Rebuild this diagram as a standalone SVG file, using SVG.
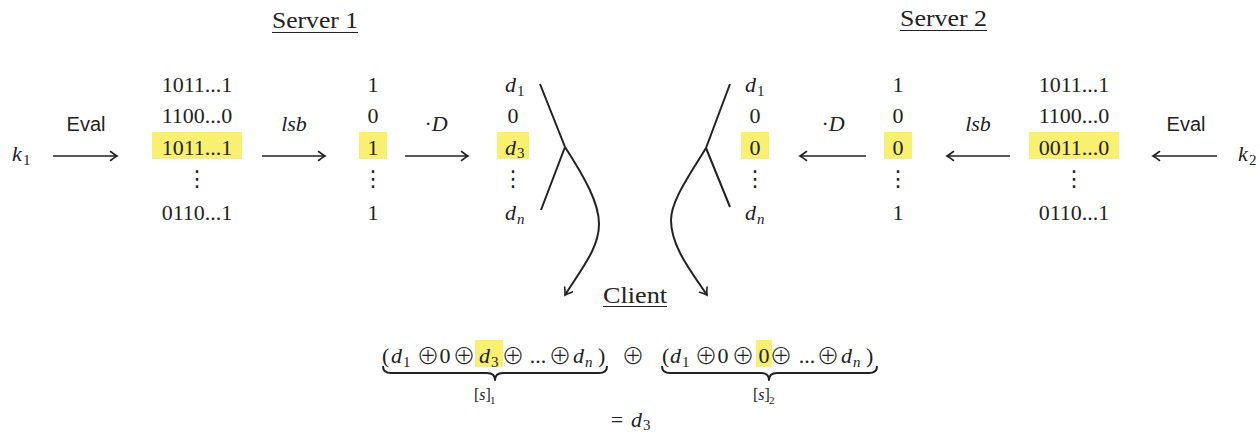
<svg xmlns="http://www.w3.org/2000/svg" width="1260" height="434" viewBox="0 0 1260 434">
<style>
text{font-family:"Liberation Serif","DejaVu Serif",serif;font-size:22px;fill:#222}
.i{font-style:italic}
.sub{font-size:15px}
.ss{font-size:11px}
.sm{font-size:16px}
.sans{font-family:"Liberation Sans",Arial,sans-serif;font-size:20px}
.big{font-size:24px}
.m{text-anchor:middle}
.op{font-family:"Noto Sans CJK JP","DejaVu Sans",sans-serif;font-size:23px;font-weight:300;text-anchor:middle}
.dots{font-family:"Noto Sans CJK JP","DejaVu Sans",sans-serif;font-size:22px;font-weight:400;text-anchor:middle}
.hl{fill:#faf070}
.ul{stroke:#222;stroke-width:1.2}
.ar{fill:none;stroke:#222;stroke-width:1.7;marker-end:url(#ah)}
.br{fill:none;stroke:#222;stroke-width:2}
.brace{fill:none;stroke:#222;stroke-width:2;stroke-linejoin:round}
</style>
<defs>
<marker id="ah" viewBox="-8 -6 10 12" refX="0" refY="0" markerWidth="10" markerHeight="12" markerUnits="userSpaceOnUse" orient="auto">
<path d="M-6.5,-4.5 Q-2,-1 0,0 Q-2,1 -6.5,4.5" fill="none" stroke="#222" stroke-width="1.6" stroke-linecap="round"/>
</marker>
</defs>

<g id="titles">
<text class="big" x="272" y="28" textLength="86" lengthAdjust="spacingAndGlyphs">Server 1</text>
<line class="ul" x1="272" y1="32.5" x2="358" y2="32.5"/>
<text class="big" x="900" y="26" textLength="87" lengthAdjust="spacingAndGlyphs">Server 2</text>
<line class="ul" x1="900" y1="30.5" x2="987" y2="30.5"/>
</g>

<g id="k1"><text class="i" x="12" y="161">k</text><text class="sub" x="23" y="165">1</text></g>
<g id="k2"><text class="i" x="1238" y="161">k</text><text class="sub" x="1249" y="165">2</text></g>

<g id="s1-strings">
<rect class="hl" x="152" y="132" width="90" height="27"/>
<text class="m" x="197" y="92">1011...1</text>
<text class="m" x="197" y="123">1100...0</text>
<text class="m" x="197" y="155">1011...1</text>
<text class="dots" x="197" y="186">⋮</text>
<text class="m" x="197" y="220">0110...1</text>
</g>
<g id="s1-bits">
<rect class="hl" x="359" y="132" width="28" height="27"/>
<text class="m" x="373" y="92">1</text>
<text class="m" x="373" y="123">0</text>
<text class="m" x="373" y="155">1</text>
<text class="dots" x="373" y="186">⋮</text>
<text class="m" x="373" y="220">1</text>
</g>
<g id="s1-d">
<rect class="hl" x="497" y="132" width="32" height="27"/>
<text class="i" x="505" y="92">d</text><text class="sub" x="517" y="96">1</text>
<text class="m" x="513" y="123">0</text>
<text class="i" x="505" y="155">d</text><text class="sub" x="517" y="158">3</text>
<text class="dots" x="513" y="186">⋮</text>
<text class="i" x="505" y="220">d</text><text class="sub i" x="517" y="224">n</text>
</g>

<g id="s2-d">
<rect class="hl" x="741" y="132" width="28" height="27"/>
<text class="i" x="745" y="92">d</text><text class="sub" x="757" y="96">1</text>
<text class="m" x="755" y="123">0</text>
<text class="m" x="755" y="155">0</text>
<text class="dots" x="755" y="186">⋮</text>
<text class="i" x="745" y="220">d</text><text class="sub i" x="757" y="224">n</text>
</g>
<g id="s2-bits">
<rect class="hl" x="884" y="132" width="28" height="27"/>
<text class="m" x="898" y="92">1</text>
<text class="m" x="898" y="123">0</text>
<text class="m" x="898" y="155">0</text>
<text class="dots" x="898" y="186">⋮</text>
<text class="m" x="898" y="220">1</text>
</g>
<g id="s2-strings">
<rect class="hl" x="1029" y="132" width="90" height="27"/>
<text class="m" x="1074" y="92">1011...1</text>
<text class="m" x="1074" y="123">1100...0</text>
<text class="m" x="1074" y="155">0011...0</text>
<text class="dots" x="1074" y="186">⋮</text>
<text class="m" x="1074" y="220">0110...1</text>
</g>

<g id="labels">
<text class="sans m" x="86" y="131">Eval</text>
<text class="i m" x="294" y="131">lsb</text>
<text class="m" x="436" y="131">·<tspan class="i">D</tspan></text>
<text class="m" x="833" y="131">·<tspan class="i">D</tspan></text>
<text class="i m" x="978" y="131">lsb</text>
<text class="sans m" x="1186" y="131">Eval</text>
</g>

<g id="connectors">
<line class="ar" x1="53" y1="156" x2="117" y2="156"/>
<line class="ar" x1="262" y1="156" x2="325" y2="156"/>
<line class="ar" x1="405" y1="156" x2="468" y2="156"/>
<line class="ar" x1="866" y1="156" x2="800" y2="156"/>
<line class="ar" x1="1010" y1="156" x2="947" y2="156"/>
<line class="ar" x1="1217" y1="156" x2="1153" y2="156"/>
<path class="br" d="M540,84 L565,147 M541,210 L565,147"/>
<path class="ar" style="stroke-width:2" d="M565,147 C585,178 599,203 599,224 C599,248 582,268 565,295"/>
<path class="br" d="M730,84 L706,148 M730,207 L706,148"/>
<path class="ar" style="stroke-width:2" d="M706,148 C689,176 671,201 671,220 C671,246 690,270 707,295"/>
</g>

<g id="client">
<text class="big" x="603" y="303" textLength="64" lengthAdjust="spacingAndGlyphs">Client</text>
<line class="ul" x1="603" y1="306.5" x2="667" y2="306.5"/>
</g>

<g id="share1">
<rect class="hl" x="475" y="340" width="28" height="27"/>
<text x="382" y="363">(</text>
<text class="i" x="391" y="363">d</text><text class="sub" x="403" y="367">1</text>
<text class="op" x="428" y="364">⊕</text>
<text class="m" x="445" y="363">0</text>
<text class="op" x="464" y="364">⊕</text>
<text class="i" x="479" y="363">d</text><text class="sub" x="491" y="367">3</text>
<text class="op" x="513" y="364">⊕</text>
<text class="m" x="538" y="363">...</text>
<text class="op" x="560" y="364">⊕</text>
<text class="i" x="573" y="363">d</text><text class="sub i" x="585" y="367">n</text>
<text x="598" y="363">)</text>
<path class="brace" d="M383,366 Q383,373 391,373 L487,373 Q495,373 495,380 Q495,373 503,373 L599,373 Q607,373 607,366"/>
<text class="sm" x="474" y="400">[<tspan class="i">s</tspan>]</text><text class="ss" x="490" y="404">1</text>
</g>

<text class="op" x="633" y="364">⊕</text>

<g id="share2">
<rect class="hl" x="756" y="340" width="16" height="27"/>
<text x="662" y="363">(</text>
<text class="i" x="670" y="363">d</text><text class="sub" x="682" y="367">1</text>
<text class="op" x="706" y="364">⊕</text>
<text class="m" x="723" y="363">0</text>
<text class="op" x="743" y="364">⊕</text>
<text class="m" x="764" y="363">0</text>
<text class="op" x="781" y="364">⊕</text>
<text class="m" x="807" y="363">...</text>
<text class="op" x="828" y="364">⊕</text>
<text class="i" x="841" y="363">d</text><text class="sub i" x="853" y="367">n</text>
<text x="866" y="363">)</text>
<path class="brace" d="M662,366 Q662,373 670,373 L761,373 Q769,373 769,380 Q769,373 777,373 L869,373 Q877,373 877,366"/>
<text class="sm" x="753" y="400">[<tspan class="i">s</tspan>]</text><text class="ss" x="769" y="404">2</text>
</g>

<g id="result">
<text class="m" x="617" y="427">=</text>
<text class="i" x="631" y="427">d</text><text class="sub" x="643" y="430">3</text>
</g>
</svg>
